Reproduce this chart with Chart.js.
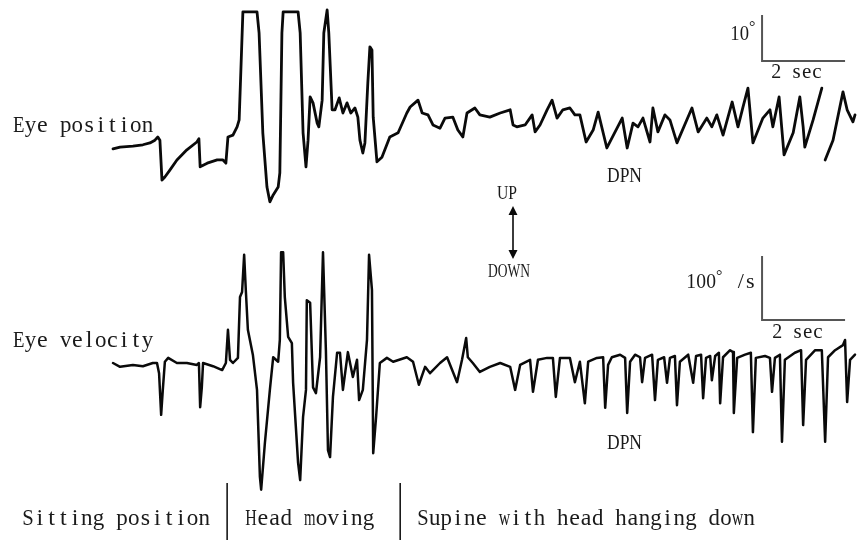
<!DOCTYPE html>
<html>
<head>
<meta charset="utf-8">
<script src="https://cdn.jsdelivr.net/npm/chart.js@4/dist/chart.umd.min.js"></script>
<style>
  html, body { margin: 0; padding: 0; background: #fff; }
  #wrap { width: 860px; height: 540px; position: relative; }
</style>
</head>
<body>
<div id="wrap"><canvas id="eyeChart"></canvas></div>
<script>
/* eye position trace: time (s) / degrees, null = pen lifted */
var posTime = [0.00,0.17,0.48,0.72,0.89,1.01,1.08,1.13,1.18,1.25,
  1.37,1.54,1.78,2.02,2.07,2.10,2.27,2.51,2.65,2.72,
  2.77,2.89,2.99,3.04,3.13,3.47,3.52,3.61,3.71,3.78,
  3.86,3.98,4.02,4.07,4.10,4.46,4.51,4.58,4.65,4.70,
  4.75,4.82,4.92,4.96,5.04,5.08,5.16,5.20,5.28,5.35,
  5.45,5.54,5.64,5.73,5.83,5.90,5.95,6.02,6.07,6.14,
  6.19,6.24,6.27,6.36,6.48,6.67,6.87,7.08,7.16,7.35,
  7.45,7.59,7.71,7.88,8.00,8.19,8.31,8.43,8.53,8.72,
  8.84,9.08,9.33,9.57,9.64,9.73,9.93,10.10,10.17,10.29,
  10.46,10.58,10.70,10.84,11.01,11.13,11.25,11.40,11.57,11.69,
  11.90,12.27,12.39,12.53,12.65,12.77,12.94,13.01,13.13,13.30,
  13.42,13.59,13.95,14.10,14.31,14.43,14.55,14.70,14.92,15.06,
  15.18,15.30,15.42,15.66,15.83,15.90,16.05,16.17,16.39,16.55,
  16.63,16.67,16.87,17.08,17.12,17.16,17.35,17.59,17.69,17.83,
  17.88];
var posDeg = [-0.2,0.2,0.4,0.7,1.1,1.7,2.4,1.7,-7.0,-6.3,
  -4.8,-2.6,-0.4,1.3,2.0,-4.1,-3.3,-2.6,-2.6,-3.3,
  2.4,2.8,4.6,6.1,29.6,29.6,25.0,3.3,-8.5,-11.7,
  -10.2,-8.5,-5.4,25.0,29.6,29.6,25.0,3.3,-4.1,1.7,
  11.1,9.8,5.4,4.6,10.4,25.0,30.0,25.0,8.3,8.3,
  10.9,7.6,9.8,7.6,8.7,6.7,1.7,-1.1,1.1,14.1,
  22.0,21.3,6.7,-3.0,-2.0,2.4,3.3,7.6,8.9,10.4,
  7.6,7.2,5.0,4.3,6.5,6.7,3.9,2.4,7.6,8.7,
  7.2,6.7,7.6,8.3,5.0,4.6,5.0,7.2,3.5,5.0,
  8.3,10.4,6.5,8.3,8.7,7.2,7.2,1.3,3.9,7.8,
  0.0,6.5,0.0,5.4,4.6,6.5,1.3,8.7,3.5,7.2,
  6.1,1.1,8.7,3.5,6.5,4.6,7.2,2.8,10.0,4.6,
  8.9,13.0,1.1,6.5,8.3,4.6,11.1,-1.5,3.3,11.1,
  4.6,0.2,6.1,13.0,null,-2.6,1.7,12.2,8.3,5.7,
  7.2];

/* eye velocity trace: time (s) / deg per s */
var velTime = [0.00,0.17,0.48,0.72,0.96,1.06,1.11,1.16,1.20,1.25,
  1.33,1.54,1.78,2.02,2.07,2.10,2.14,2.17,2.41,2.63,
  2.72,2.77,2.82,2.89,3.01,3.06,3.11,3.16,3.20,3.25,
  3.37,3.47,3.54,3.57,3.66,3.78,3.86,3.98,4.02,4.05,
  4.10,4.14,4.22,4.31,4.34,4.46,4.51,4.58,4.65,4.67,
  4.75,4.82,4.89,4.99,5.06,5.13,5.18,5.23,5.30,5.40,
  5.47,5.54,5.66,5.78,5.88,5.93,6.02,6.12,6.17,6.24,
  6.27,6.34,6.43,6.60,6.75,7.08,7.23,7.37,7.52,7.64,
  7.88,8.05,8.29,8.41,8.51,8.55,8.67,8.84,9.08,9.33,
  9.57,9.69,9.81,10.05,10.12,10.24,10.46,10.60,10.67,10.77,
  11.01,11.13,11.25,11.37,11.45,11.66,11.81,11.86,11.93,12.02,
  12.22,12.34,12.39,12.46,12.58,12.70,12.75,12.82,12.99,13.06,
  13.13,13.28,13.35,13.42,13.54,13.59,13.66,13.86,13.98,14.05,
  14.17,14.22,14.29,14.39,14.43,14.51,14.60,14.63,14.70,14.87,
  14.94,14.96,15.04,15.23,15.37,15.42,15.49,15.71,15.83,15.88,
  15.95,16.07,16.12,16.19,16.43,16.58,16.63,16.70,16.92,17.08,
  17.16,17.23,17.40,17.59,17.64,17.69,17.76,17.88];
var velDegS = [0,-6,-3,-5,0,0,-16,-81,-42,2,
  8,0,0,-3,0,-69,-38,0,-5,-11,
  0,52,5,0,8,103,111,169,114,52,
  13,-42,-178,-198,-125,-42,9,2,36,173,
  173,103,41,31,-31,-156,-183,-84,-42,98,
  94,-38,-47,9,173,20,-136,-147,-53,16,
  16,-42,17,-22,5,-58,-42,36,169,114,
  -141,-84,0,8,2,9,2,-34,-6,-16,
  0,9,-30,5,39,9,0,-14,-6,0,
  -6,-42,-3,5,-45,5,8,8,-53,8,
  8,-30,2,-63,2,8,9,-70,-3,9,
  13,8,-78,2,13,9,-30,8,13,-58,
  5,9,-31,8,11,-66,2,13,-31,11,
  13,-55,8,11,-27,11,16,-63,9,20,
  17,-78,8,13,16,-108,8,11,8,-45,
  8,13,-123,5,16,20,-97,5,20,20,
  -123,9,20,28,36,-61,5,13];

var traceLabels = ['Eye position', 'Eye velocity'];
var phaseLabels = ['Sitting position', 'Head moving', 'Supine with head hanging down'];
var phaseBounds = [2.75, 6.92];      // s, where the posture changes
var barSeconds = 2;
var barDegrees = 10;
var barVelocity = 100;

var inkColor = '#0a0a0a';
var textColor = '#1a1a1a';
var barColor = '#555';

function pairs(xs, ys) {
  return xs.map(function(x, i) { return { x: x, y: ys[i] }; });
}

/* SimSun-like text: each glyph centred in a fixed cell, squeezed if too wide */
function monoText(c, str, x, y, cell, size) {
  c.font = size + 'px "Liberation Serif", serif';
  c.textAlign = 'center';
  c.textBaseline = 'alphabetic';
  for (var i = 0; i < str.length; i++) {
    var ch = str[i];
    if (ch === ' ') continue;
    var w = c.measureText(ch).width;
    var sx = Math.min(1.0, (cell * 0.98) / w);
    c.save();
    c.translate(x + cell * i + cell / 2, y);
    c.scale(sx, 1);
    c.fillText(ch, 0, 0);
    c.restore();
  }
}

function fitText(c, str, x, y, size, width) {
  c.font = size + 'px "Liberation Serif", serif';
  c.textAlign = 'left';
  c.textBaseline = 'alphabetic';
  var w = c.measureText(str).width;
  c.save();
  c.translate(x, y);
  c.scale(width / w, 1);
  c.fillText(str, 0, 0);
  c.restore();
}

var annotationPlugin = {
  id: 'eyeAnnotations',
  afterDraw: function(chart) {
    var c = chart.ctx;
    var sx = chart.scales.x, sp = chart.scales.yPos, sv = chart.scales.yVel;
    var bx0 = sx.getPixelForValue(15.64), bx1 = sx.getPixelForValue(15.64 + barSeconds);
    c.save();

    /* calibration bars */
    c.strokeStyle = barColor;
    c.lineWidth = 2;
    var pb = sp.getPixelForValue(18.9), pt = sp.getPixelForValue(18.9 + barDegrees);
    var vb = sv.getPixelForValue(67), vt = sv.getPixelForValue(67 + barVelocity);
    c.beginPath();
    c.moveTo(bx0, pt); c.lineTo(bx0, pb); c.lineTo(bx1, pb);
    c.moveTo(bx0, vt); c.lineTo(bx0, vb); c.lineTo(bx1, vb);
    c.stroke();

    c.fillStyle = textColor;
    monoText(c, '10', bx0 - 32, pt + 25, 9.5, 22);
    c.font = '16px "Liberation Serif", serif';
    c.textAlign = 'left';
    c.fillText('°', bx0 - 13, pt + 17);
    monoText(c, '2 sec', bx0 + 9, pb + 17, 10.2, 21);

    monoText(c, '100', bx0 - 76, vt + 32, 10, 22);
    c.font = '16px "Liberation Serif", serif';
    c.textAlign = 'left';
    c.fillText('°', bx0 - 46, vt + 25);
    monoText(c, '/s', bx0 - 26, vt + 32, 9.5, 22);
    monoText(c, '2 sec', bx0 + 10, vb + 18, 10.2, 21);

    /* trace names */
    monoText(c, traceLabels[0], 13, 132, 11.7, 24);
    monoText(c, traceLabels[1], 13, 347, 11.7, 24);

    /* DPN marks */
    fitText(c, 'DPN', 607, 182, 20, 35);
    fitText(c, 'DPN', 607, 449, 20, 35);

    /* UP / DOWN arrow */
    fitText(c, 'UP', 497, 199, 18, 20);
    fitText(c, 'DOWN', 488, 277, 18, 42);
    c.strokeStyle = inkColor;
    c.fillStyle = inkColor;
    c.lineWidth = 1.6;
    c.beginPath();
    c.moveTo(513, 212); c.lineTo(513, 253);
    c.stroke();
    c.beginPath();
    c.moveTo(513, 206); c.lineTo(508.5, 215); c.lineTo(517.5, 215); c.closePath();
    c.moveTo(513, 259); c.lineTo(508.5, 250); c.lineTo(517.5, 250); c.closePath();
    c.fill();

    /* posture phases */
    c.strokeStyle = inkColor;
    c.lineWidth = 1.5;
    var s1 = sx.getPixelForValue(phaseBounds[0]), s2 = sx.getPixelForValue(phaseBounds[1]);
    c.beginPath();
    c.moveTo(s1, 483); c.lineTo(s1, 540);
    c.moveTo(s2, 483); c.lineTo(s2, 540);
    c.stroke();
    c.fillStyle = textColor;
    monoText(c, phaseLabels[0], s1 - 205, 525, 11.75, 24);
    monoText(c, phaseLabels[1], s1 + 18, 525, 11.75, 24);
    monoText(c, phaseLabels[2], s2 + 17, 525, 11.65, 24);
    c.restore();
  }
};

var lineStyle = {
  borderColor: inkColor,
  borderWidth: 2.8,
  borderJoinStyle: 'round',
  borderCapStyle: 'round',
  pointRadius: 0,
  tension: 0,
  fill: false,
  spanGaps: false
};

new Chart(document.getElementById('eyeChart'), {
  type: 'line',
  data: {
    datasets: [
      Object.assign({ label: traceLabels[0], data: pairs(posTime, posDeg), yAxisID: 'yPos' }, lineStyle),
      Object.assign({}, lineStyle, { label: traceLabels[1], data: pairs(velTime, velDegS), yAxisID: 'yVel', borderWidth: 2.5 })
    ]
  },
  options: {
    responsive: true,
    maintainAspectRatio: false,
    animation: false,
    layout: { padding: 0 },
    plugins: { legend: { display: false }, tooltip: { enabled: false } },
    scales: {
      x: { type: 'linear', min: -2.723, max: 18.0, display: false },
      yPos: { type: 'linear', min: -85.22, max: 32.17, display: false },
      yVel: { type: 'linear', min: -276.56, max: 567.19, display: false }
    }
  },
  plugins: [annotationPlugin]
});
</script>
</body>
</html>
